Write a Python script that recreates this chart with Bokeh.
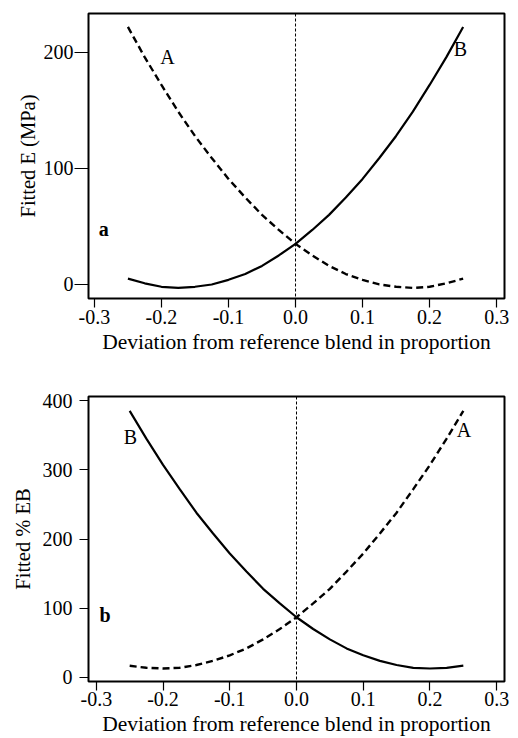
from bokeh.plotting import figure
from bokeh.layouts import column
from bokeh.models import FixedTicker, Range1d, Span, Label, Title
from bokeh.embed import file_html
from bokeh.resources import INLINE

# ---- data ----
x_grid = [-0.25, -0.225, -0.2, -0.175, -0.15, -0.125, -0.1, -0.075, -0.05, -0.025,
          0.0, 0.025, 0.05, 0.075, 0.1, 0.125, 0.15, 0.175, 0.2, 0.225, 0.25]

# panel a: Fitted E (MPa)
a_curve_A = [222, 196, 172, 149, 128, 109, 91, 75, 60, 47, 35, 25, 16, 9, 4, 0, -2, -3, -2, 1, 5]
a_curve_B = [5, 1, -2, -3, -2, 0, 4, 9, 16, 25, 35, 47, 60, 75, 91, 109, 128, 149, 172, 196, 222]

# panel b: Fitted % EB
b_curve_A = [17, 14, 13, 14, 18, 24, 32, 42, 55, 70, 87, 107, 128, 153, 179, 208, 238, 272, 307, 345, 385]
b_curve_B = [385, 345, 307, 272, 238, 208, 179, 153, 128, 107, 87, 70, 55, 42, 32, 24, 18, 14, 13, 14, 17]

x_ticks = [-0.3, -0.2, -0.1, 0, 0.1, 0.2, 0.3]
x_tick_labels = ["-0.3", "-0.2", "-0.1", "0.0", "0.1", "0.2", "0.3"]
a_y_ticks = [0, 100, 200]
b_y_ticks = [0, 100, 200, 300, 400]

x_title = "Deviation from reference blend in proportion"
a_y_title = "Fitted E (MPa)"
b_y_title = "Fitted % EB"

FONT = "Liberation Serif"


def style(p, tick_out_y, label_standoff_y, label_standoff_x):
    p.outline_line_color = "black"
    p.outline_line_width = 2
    p.xgrid.visible = False
    p.ygrid.visible = False
    p.background_fill_color = "white"
    p.border_fill_color = "white"
    for ax in (p.xaxis[0], p.yaxis[0]):
        ax.axis_line_color = None
        ax.minor_tick_line_color = None
        ax.major_tick_in = 0
        ax.major_tick_line_width = 1.2
        ax.major_tick_line_color = "black"
        ax.major_label_text_font = FONT
        ax.major_label_text_font_size = "20px"
        ax.major_label_text_color = "black"
    p.xaxis[0].ticker = FixedTicker(ticks=x_ticks)
    p.xaxis[0].major_label_overrides = dict(zip(x_ticks, x_tick_labels))
    p.xaxis[0].major_tick_out = 9
    p.xaxis[0].major_label_standoff = label_standoff_x
    p.yaxis[0].major_tick_out = tick_out_y
    p.yaxis[0].major_label_standoff = label_standoff_y
    p.yaxis[0].major_label_orientation = "horizontal"


def text(p, x, y, s, bold=False):
    p.add_layout(Label(x=x, y=y, text=s, text_font=FONT, text_font_size="20px",
                       text_font_style="bold" if bold else "normal",
                       text_align="center", text_baseline="middle", text_color="black"))


def title(p, s, side, offset, standoff, size):
    p.add_layout(Title(text=s, align="center", offset=offset, standoff=standoff,
                       text_font=FONT, text_font_size=size, text_font_style="normal",
                       text_color="black"), side)


# ---- panel a ----
pa = figure(width=518, height=370, output_backend="svg", toolbar_location=None,
            x_range=Range1d(-0.3088, 0.3117), y_range=Range1d(-12.1, 233.6),
            min_border_left=80, min_border_right=14, min_border_top=13, min_border_bottom=72)
style(pa, 14, 1, 2)
pa.yaxis[0].ticker = FixedTicker(ticks=a_y_ticks)
pa.add_layout(Span(location=0, dimension="height", line_color="black",
                   line_width=1, line_dash="3 2"))
pa.line(x_grid, a_curve_A, line_color="black", line_width=2.4, line_dash="7 4")
pa.line(x_grid, a_curve_B, line_color="black", line_width=2.2)
text(pa, -0.191, 196, "A")
text(pa, 0.246, 203, "B")
text(pa, -0.286, 48, "a", bold=True)
title(pa, x_title, "below", 18, 3, "21.5px")
title(pa, a_y_title, "left", -10, 4, "20.5px")

# ---- panel b ----
pb = figure(width=518, height=368, output_backend="svg", toolbar_location=None,
            x_range=Range1d(-0.3117, 0.3117), y_range=Range1d(-5.8, 405.8),
            min_border_left=88, min_border_right=5, min_border_top=26, min_border_bottom=57)
style(pb, 9, 7, 1)
pb.yaxis[0].ticker = FixedTicker(ticks=b_y_ticks)
pb.add_layout(Span(location=0, dimension="height", line_color="black",
                   line_width=1, line_dash="3 2"))
pb.line(x_grid, b_curve_A, line_color="black", line_width=2.4, line_dash="7 4")
pb.line(x_grid, b_curve_B, line_color="black", line_width=2.2)
text(pb, -0.249, 348, "B")
text(pb, 0.251, 357, "A")
text(pb, -0.287, 90, "b", bold=True)
title(pb, x_title, "below", -3, 2, "21.5px")
title(pb, b_y_title, "left", 2, 12, "20.5px")

layout = column(pa, pb, spacing=0)
open("out.html", "w").write(file_html(layout, INLINE))
